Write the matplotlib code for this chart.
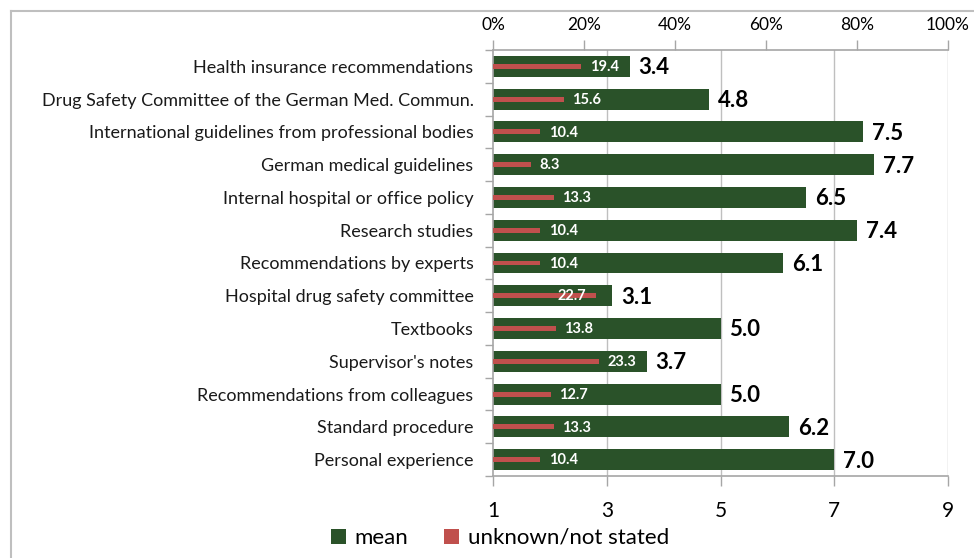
import matplotlib
matplotlib.use("Agg")
import matplotlib.pyplot as plt
from matplotlib.lines import Line2D
from matplotlib.patches import Patch
import numpy as np

plt.rcParams['font.family'] = ['Lato', 'DejaVu Sans']

categories = [
    "Health insurance recommendations",
    "Drug Safety Committee of the German Med. Commun.",
    "International guidelines from professional bodies",
    "German medical guidelines",
    "Internal hospital or office policy",
    "Research studies",
    "Recommendations by experts",
    "Hospital drug safety committee",
    "Textbooks",
    "Supervisor's notes",
    "Recommendations from colleagues",
    "Standard procedure",
    "Personal experience",
]
mean_values = [3.4, 4.8, 7.5, 7.7, 6.5, 7.4, 6.1, 3.1, 5.0, 3.7, 5.0, 6.2, 7.0]
unknown_pct = [19.4, 15.6, 10.4, 8.3, 13.3, 10.4, 10.4, 22.7, 13.8, 23.3, 12.7, 13.3, 10.4]
mean_ticks = [1, 3, 5, 7, 9]
pct_ticks = [0, 20, 40, 60, 80, 100]
pct_labels = ["0%", "20%", "40%", "60%", "80%", "100%"]

GREEN = "#2a5229"
RED = "#c0504d"
GRID = "#bfbfbf"
AXC = "#a6a6a6"

W, H = 974, 558
fig = plt.figure(figsize=(W / 100, H / 100), dpi=100)
ax = fig.add_axes([493 / W, 1 - 476 / H, (948 - 493) / W, (476 - 50) / H])

n = len(categories)
ypos = np.arange(n)[::-1]  # first category at top

ax.barh(ypos, np.array(mean_values) - 1, left=1, height=0.64, color=GREEN, zorder=2)
ax.set_xlim(1, 9)
ax.set_ylim(-0.5, n - 0.5)
ax.set_xticks(mean_ticks)
ax.set_xticklabels([str(t) for t in mean_ticks], fontsize=15)
ax.tick_params(axis='x', direction='out', length=7, color=AXC, width=1, pad=11)
for t in mean_ticks[1:]:
    ax.axvline(t, color=GRID, lw=1, zorder=1)

ax.set_yticks(ypos)
ax.set_yticklabels(categories, fontsize=13, color="#1a1a1a")
ax.set_yticks(np.arange(n + 1) - 0.5, minor=True)
ax.tick_params(axis='y', which='major', length=0, pad=14)
ax.tick_params(axis='y', which='minor', length=6, color=AXC, width=1, direction='out')

for s in ['right', 'top']:
    ax.spines[s].set_visible(False)
for s in ['left', 'bottom']:
    ax.spines[s].set_color(AXC)
    ax.spines[s].set_linewidth(1.2)

ax2 = ax.twiny()
ax2.set_xlim(0, 100)
ax2.barh(ypos, unknown_pct, height=0.15, color=RED, zorder=3)
ax2.set_xticks(pct_ticks)
ax2.set_xticklabels(pct_labels, fontsize=12.5)
ax2.tick_params(axis='x', direction='out', length=7, color=AXC, width=1, pad=5)
for s in ['right', 'left', 'bottom']:
    ax2.spines[s].set_visible(False)
ax2.spines['top'].set_color(AXC)
ax2.spines['top'].set_linewidth(1.2)

# mean labels
for y, v in zip(ypos, mean_values):
    ax.annotate(f"{v:.1f}", xy=(v, y), xytext=(6.5, -1), textcoords='offset points',
                ha='left', va='center', fontsize=16, fontweight='bold', color='black', zorder=5)

# unknown labels
fig.canvas.draw()
for y, p, v in zip(ypos, unknown_pct, mean_values):
    red_end = ax2.transData.transform((p, y))[0]
    green_end = ax.transData.transform((v, y))[0]
    if red_end + 8 + 32 > green_end - 2:
        ax2.annotate(f"{p:.1f}", xy=(p, y), xytext=(-7, -0.5), textcoords='offset points',
                     ha='right', va='center', fontsize=10.5, fontweight='bold', color='white', zorder=6)
    else:
        ax2.annotate(f"{p:.1f}", xy=(p, y), xytext=(6, -0.5), textcoords='offset points',
                     ha='left', va='center', fontsize=10.5, fontweight='bold', color='white', zorder=6)

# legend
handles = [Patch(facecolor=GREEN, edgecolor='none', label='mean'),
           Patch(facecolor=RED, edgecolor='none', label='unknown/not stated')]
fig.legend(handles=handles, loc='center', bbox_to_anchor=(500 / W, 1 - 538 / H), ncol=2,
           frameon=False, fontsize=16, handlelength=0.68, handleheight=0.68,
           handletextpad=0.4, columnspacing=1.6)

# chart border
fig.add_artist(Line2D([10.5 / W, 1.0], [1 - 10.5 / H, 1 - 10.5 / H], transform=fig.transFigure,
                      color='#bfbfbf', lw=1.5))
fig.add_artist(Line2D([10.5 / W, 10.5 / W], [1 - 10.5 / H, 0], transform=fig.transFigure,
                      color='#bfbfbf', lw=1.5))

fig.savefig("out.png", dpi=100)
